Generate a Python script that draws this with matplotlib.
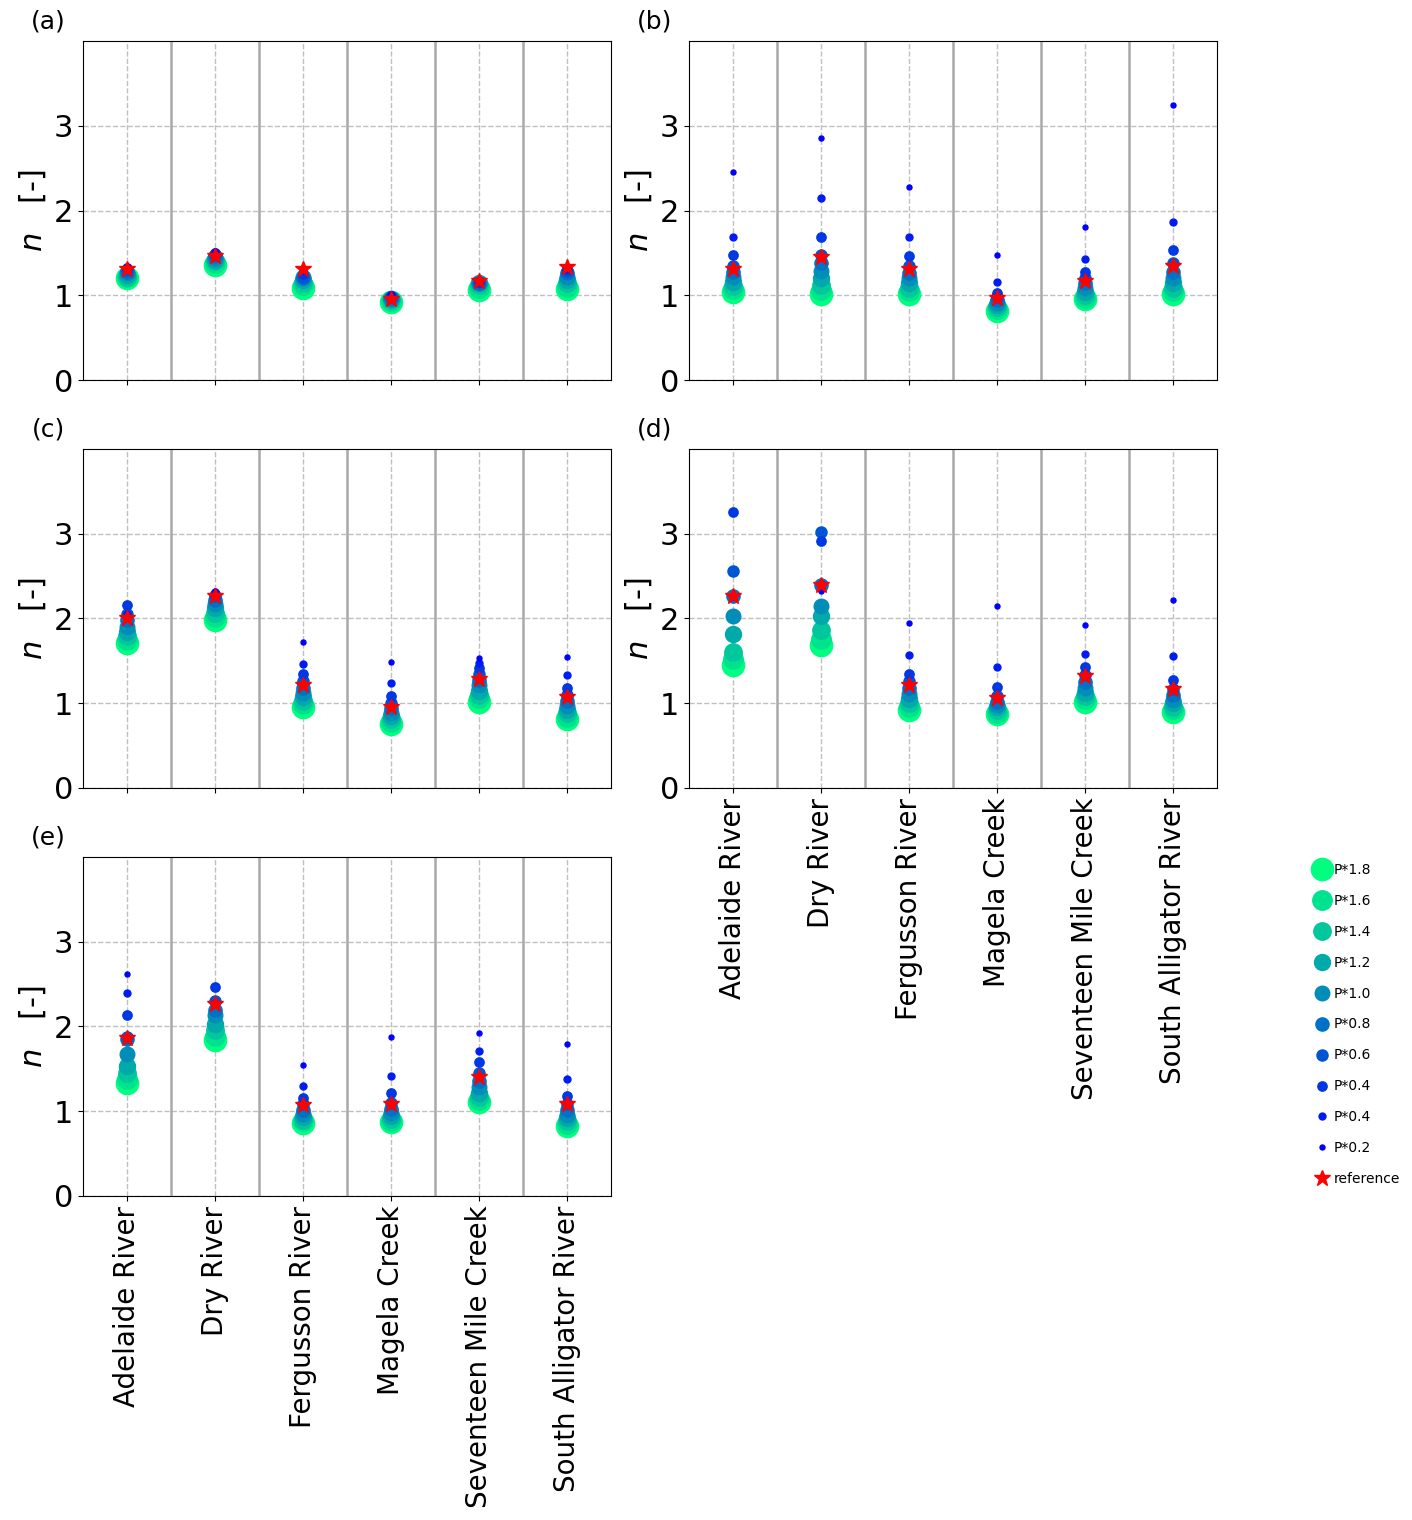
import numpy as np
import matplotlib
matplotlib.use('Agg')
import matplotlib.pyplot as plt

rivers = ['Adelaide River', 'Dry River', 'Fergusson River', 'Magela Creek',
          'Seventeen Mile Creek', 'South Alligator River']
labels = ['P*1.8', 'P*1.6', 'P*1.4', 'P*1.2', 'P*1.0', 'P*0.8', 'P*0.6',
          'P*0.4', 'P*0.4', 'P*0.2']
sizes = [16, 14, 12.5, 11.5, 10.5, 9.5, 8, 6.7, 5, 3.6]

# n per river, columns in the order of labels (P*1.8 ... P*0.2)
n_a = [[1.20, 1.21, 1.22, 1.24, 1.26, 1.28, 1.30, 1.32, 1.33, 1.34],
       [1.36, 1.38, 1.40, 1.42, 1.44, 1.46, 1.48, 1.50, 1.51, 1.52],
       [1.09, 1.12, 1.15, 1.18, 1.21, 1.20, 1.22, 1.25, 1.30, 1.32],
       [0.92, 0.93, 0.94, 0.95, 0.96, 0.97, 0.98, 0.99, 1.00, 1.01],
       [1.06, 1.09, 1.12, 1.14, 1.15, 1.15, 1.16, 1.16, 1.17, 1.17],
       [1.07, 1.10, 1.14, 1.18, 1.22, 1.26, 1.29, 1.31, 1.32, 1.33]]
ref_a = [1.31, 1.46, 1.31, 0.96, 1.17, 1.33]

n_b = [[1.04, 1.07, 1.11, 1.16, 1.22, 1.28, 1.35, 1.47, 1.69, 2.46],
       [1.01, 1.06, 1.12, 1.20, 1.29, 1.38, 1.47, 1.69, 2.15, 2.86],
       [1.02, 1.05, 1.09, 1.14, 1.20, 1.26, 1.34, 1.46, 1.69, 2.28],
       [0.82, 0.84, 0.86, 0.88, 0.91, 0.94, 0.98, 1.03, 1.16, 1.48],
       [0.95, 0.97, 1.00, 1.04, 1.09, 1.14, 1.20, 1.28, 1.43, 1.81],
       [1.02, 1.05, 1.09, 1.14, 1.20, 1.28, 1.38, 1.54, 1.86, 3.25]]
ref_b = [1.31, 1.45, 1.31, 0.97, 1.17, 1.34]

n_c = [[1.71, 1.75, 1.79, 1.84, 1.90, 1.98, 2.05, 2.16, 2.05, 2.02],
       [1.98, 2.02, 2.07, 2.12, 2.17, 2.22, 2.26, 2.29, 2.31, 2.33],
       [0.96, 0.99, 1.03, 1.07, 1.12, 1.18, 1.26, 1.34, 1.46, 1.72],
       [0.76, 0.78, 0.81, 0.85, 0.89, 0.94, 1.00, 1.08, 1.24, 1.49],
       [1.02, 1.06, 1.10, 1.15, 1.21, 1.28, 1.35, 1.42, 1.47, 1.53],
       [0.81, 0.84, 0.88, 0.92, 0.97, 1.03, 1.10, 1.18, 1.33, 1.54]]
ref_c = [2.00, 2.26, 1.22, 0.95, 1.29, 1.07]

n_d = [[1.45, 1.52, 1.60, 1.82, 2.03, 2.26, 2.56, 3.26, 2.27, 2.25],
       [1.69, 1.76, 1.86, 2.03, 2.15, 2.40, 3.02, 2.91, 2.41, 2.33],
       [0.92, 0.96, 1.00, 1.05, 1.11, 1.18, 1.26, 1.35, 1.57, 1.95],
       [0.87, 0.89, 0.92, 0.95, 0.98, 1.02, 1.08, 1.19, 1.43, 2.15],
       [1.02, 1.05, 1.08, 1.12, 1.18, 1.25, 1.33, 1.43, 1.58, 1.92],
       [0.90, 0.93, 0.96, 1.00, 1.04, 1.10, 1.17, 1.27, 1.56, 2.22]]
ref_d = [2.26, 2.40, 1.22, 1.06, 1.32, 1.17]

n_e = [[1.33, 1.38, 1.45, 1.53, 1.67, 1.85, 1.87, 2.13, 2.40, 2.62],
       [1.84, 1.89, 1.96, 2.03, 2.13, 2.20, 2.30, 2.47, 2.28, 2.26],
       [0.86, 0.88, 0.90, 0.93, 0.97, 1.02, 1.08, 1.15, 1.30, 1.55],
       [0.87, 0.89, 0.91, 0.94, 0.98, 1.03, 1.10, 1.22, 1.42, 1.88],
       [1.11, 1.13, 1.17, 1.22, 1.28, 1.36, 1.45, 1.58, 1.71, 1.92],
       [0.83, 0.85, 0.88, 0.92, 0.96, 1.01, 1.08, 1.18, 1.38, 1.79]]
ref_e = [1.86, 2.27, 1.07, 1.09, 1.40, 1.09]

colors = plt.cm.winter(np.linspace(1, 0, len(labels)))


def draw_panel(ax, values, ref, tag, show_names):
    x = np.arange(len(rivers))
    vals = np.array(values)
    for j in range(len(labels)):
        ax.plot(x, vals[:, j], 'o', ms=sizes[j], color=colors[j],
                label=labels[j], zorder=3)
    ax.plot(x, ref, '*', ms=12, color='red', label='reference', zorder=4)
    for b in np.arange(0.5, len(rivers) - 1, 1):
        ax.axvline(b, color='darkgrey', lw=1.8, zorder=1)
    ax.grid(True, linestyle='--', color='silver', lw=1)
    ax.set_axisbelow(True)
    ax.set_xlim(-0.5, len(rivers) - 0.5)
    ax.set_ylim(0, 4)
    ax.set_yticks([0, 1, 2, 3])
    ax.set_xticks(x)
    if show_names:
        ax.set_xticklabels(rivers, rotation=90, fontsize=20)
    else:
        ax.set_xticklabels([])
    ax.tick_params(axis='y', labelsize=22)
    ax.set_ylabel('$n$   [-]', fontsize=22)
    ax.text(-0.066, 1.058, tag, transform=ax.transAxes, fontsize=18,
            ha='center', va='center')


fig = plt.figure(figsize=(14.12, 15.2), dpi=100)
w, h = 0.374, 0.223
ax_a = fig.add_axes([0.0588, 0.750, w, h])
ax_b = fig.add_axes([0.488, 0.750, w, h])
ax_c = fig.add_axes([0.0588, 0.4816, w, h])
ax_d = fig.add_axes([0.488, 0.4816, w, h])
ax_e = fig.add_axes([0.0588, 0.2132, w, h])

draw_panel(ax_a, n_a, ref_a, '(a)', False)
draw_panel(ax_b, n_b, ref_b, '(b)', False)
draw_panel(ax_c, n_c, ref_c, '(c)', False)
draw_panel(ax_d, n_d, ref_d, '(d)', True)
draw_panel(ax_e, n_e, ref_e, '(e)', True)

handles, names = ax_a.get_legend_handles_labels()
fig.legend(handles, names, loc='center left', bbox_to_anchor=(0.92, 0.326),
           frameon=False, fontsize=10, labelspacing=1.22, handletextpad=0.1,
           handlelength=1.5)

fig.savefig('out.png', dpi=100)
